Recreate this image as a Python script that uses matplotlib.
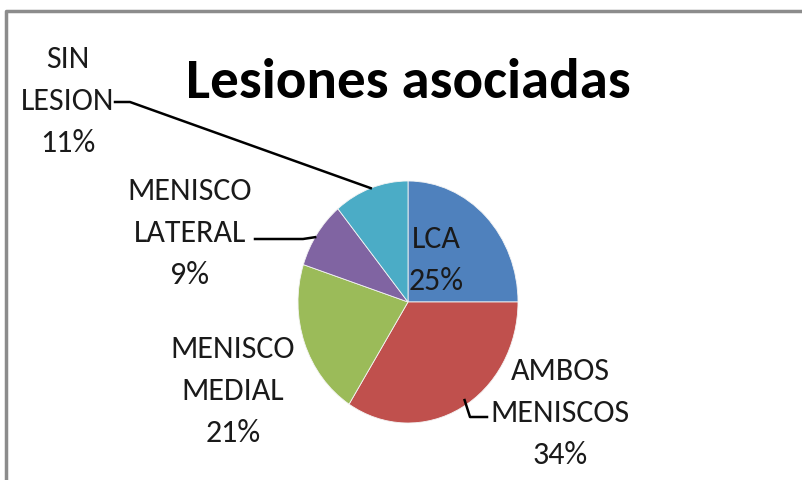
import matplotlib.pyplot as plt
from matplotlib.lines import Line2D
import numpy as np

categorias = ['LCA', 'AMBOS\nMENISCOS', 'MENISCO\nMEDIAL', 'MENISCO\nLATERAL', 'SIN\nLESION']
porcentajes = [25, 34, 21, 9, 11]
colores = ['#4F81BD', '#C0504D', '#9BBB59', '#8064A2', '#4BACC6']

W, H = 803, 481
fig = plt.figure(figsize=(W / 100, H / 100), dpi=100)
fig.patch.set_facecolor('white')

fuente = 'Carlito'

# borde gris del grafico (arriba e izquierda)
fig.add_artist(Line2D([6 / W, 6 / W, 1], [0, 1 - 12 / H, 1 - 12 / H],
                      transform=fig.transFigure, color='#8c8c8c', lw=2.5))

# pie (ligeramente mas alto que ancho)
cx, cy, rx, ry = 408, 303, 110, 121
ax = fig.add_axes([(cx - rx) / W, 1 - (cy + ry) / H, 2 * rx / W, 2 * ry / H])
ax.pie(porcentajes, colors=colores, startangle=90, counterclock=False, radius=1,
       wedgeprops=dict(linewidth=0.6, edgecolor='#f4f4f4'))
ax.set_aspect('auto')
ax.set_xlim(-1, 1)
ax.set_ylim(-1, 1)
ax.axis('off')

fig.text(408 / W, 1 - 82 / H, 'Lesiones asociadas', fontsize=41, fontweight='bold',
         family=fuente, ha='center', va='center')

acum = np.cumsum([0] + porcentajes) / 100.0


def borde(frac, r=1.0):
    ang = np.deg2rad(90 - 360 * frac)
    p = ax.transData.transform((r * np.cos(ang), r * np.sin(ang)))
    return fig.transFigure.inverted().transform(p)


def linea(puntos):
    xs = [p[0] for p in puntos]
    ys = [p[1] for p in puntos]
    fig.add_artist(Line2D(xs, ys, transform=fig.transFigure, color='black', lw=1.8))


def px(x, y):
    return (x / W, 1 - y / H)


etiquetas = [f'{c}\n{p}%' for c, p in zip(categorias, porcentajes)]
pos_etiquetas = [(436, 260), (560, 413), (233, 391), (190, 233), (68, 101)]
for txt, (x, y) in zip(etiquetas, pos_etiquetas):
    fig.text(x / W, 1 - y / H, txt, fontsize=23, family=fuente, ha='center', va='center',
             multialignment='center', linespacing=1.62, color='#1a1a1a')

# lineas guia
linea([px(115, 103), px(130, 103), borde((acum[4] + acum[5]) / 2)])
linea([px(255, 240), px(303, 240), borde(acum[3] + 0.04)])
linea([borde(0.41, 0.96), px(470, 418), px(487, 418)])

fig.savefig('out.png', dpi=100)
